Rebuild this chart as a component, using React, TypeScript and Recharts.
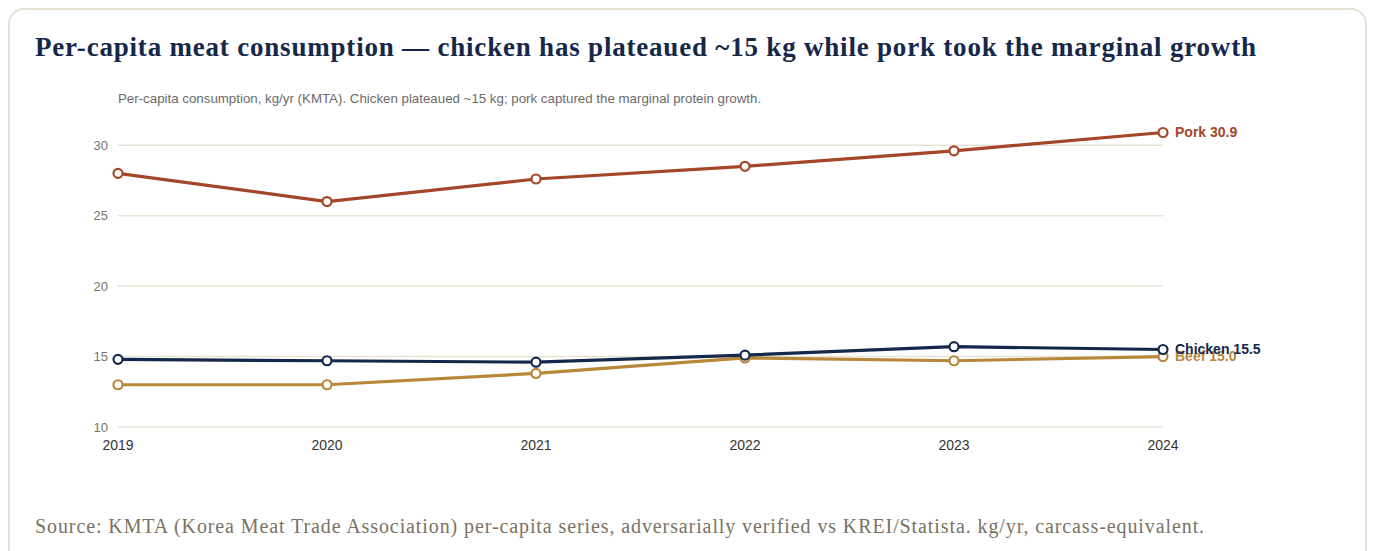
import { CartesianGrid, LabelList, Line, LineChart, XAxis, YAxis } from 'recharts';

const YEARS = ['2019', '2020', '2021', '2022', '2023', '2024'];
const PORK = [28.0, 26.0, 27.6, 28.5, 29.6, 30.9];
const CHICKEN = [14.8, 14.7, 14.6, 15.1, 15.7, 15.5];
const BEEF = [13.0, 13.0, 13.8, 14.9, 14.7, 15.0];
const Y_TICKS = [10, 15, 20, 25, 30];

const SERIES = [
  { key: 'pork', name: 'Pork', color: '#a3462a' },
  { key: 'beef', name: 'Beef', color: '#b8873a' },
  { key: 'chicken', name: 'Chicken', color: '#14284b' },
];

const data = YEARS.map((year, i) => ({
  year,
  pork: PORK[i],
  chicken: CHICKEN[i],
  beef: BEEF[i],
}));

const SANS = '"Liberation Sans", Arial, sans-serif';
const SERIF = '"Liberation Serif", "Times New Roman", serif';

function endLabel(name: string, color: string) {
  return (props: any) => {
    const { x, y, value, index } = props;
    if (index !== YEARS.length - 1) return null;
    return (
      <text
        x={x + 12}
        y={y}
        dy="0.35em"
        fill={color}
        fontFamily={SANS}
        fontSize={14}
        fontWeight={700}
      >
        {`${name} ${Number(value).toFixed(1)}`}
      </text>
    );
  };
}

export default function App() {
  return (
    <div>
      <div
        style={{
          position: 'absolute',
          left: 8,
          top: 8,
          width: 1355,
          height: 580,
          border: '2px solid #e7e1d2',
          borderRadius: 16,
          background: '#fff',
        }}
      />
      <div
        style={{
          position: 'absolute',
          left: 35,
          top: 30,
          fontFamily: SERIF,
          fontWeight: 700,
          fontSize: 27,
          letterSpacing: 0.8,
          color: '#16284a',
          whiteSpace: 'nowrap',
          lineHeight: '34px',
        }}
      >
        Per-capita meat consumption — chicken has plateaued ~15 kg while pork took the marginal growth
      </div>
      <div
        style={{
          position: 'absolute',
          left: 118,
          top: 90,
          fontFamily: SANS,
          fontSize: 13.3,
          color: '#6b6b6b',
          whiteSpace: 'nowrap',
          lineHeight: '18px',
        }}
      >
        Per-capita consumption, kg/yr (KMTA). Chicken plateaued ~15 kg; pork captured the marginal protein growth.
      </div>
      <div style={{ position: 'absolute', left: 0, top: 0 }}>
        <LineChart
          width={1300}
          height={470}
          data={data}
          margin={{ top: 117, right: 137, bottom: 13, left: 10 }}
        >
          <CartesianGrid
            vertical={false}
            horizontalValues={Y_TICKS}
            stroke="#e8e3d5"
            strokeWidth={1.5}
          />
          <XAxis
            dataKey="year"
            axisLine={false}
            tickLine={false}
            tickSize={0}
            tickMargin={13}
            height={30}
            interval={0}
            tick={{ fill: '#333', fontSize: 14, fontFamily: SANS }}
          />
          <YAxis
            domain={[10, 32]}
            ticks={Y_TICKS}
            axisLine={false}
            tickLine={false}
            tickSize={0}
            tickMargin={10}
            width={108}
            tick={{ fill: '#7a7466', fontSize: 13, fontFamily: SANS }}
          />
          {SERIES.map((s) => (
            <Line
              key={s.key}
              type="linear"
              dataKey={s.key}
              stroke={s.color}
              strokeWidth={3.2}
              dot={{ r: 4.5, fill: '#fff', stroke: s.color, strokeWidth: 2.2 }}
              activeDot={false}
              isAnimationActive={false}
            >
              <LabelList dataKey={s.key} content={endLabel(s.name, s.color)} />
            </Line>
          ))}
        </LineChart>
      </div>
      <div
        style={{
          position: 'absolute',
          left: 35,
          top: 513,
          fontFamily: SERIF,
          fontSize: 20,
          letterSpacing: 0.9,
          color: '#7a7264',
          whiteSpace: 'nowrap',
          lineHeight: '26px',
        }}
      >
        Source: KMTA (Korea Meat Trade Association) per-capita series, adversarially verified vs KREI/Statista. kg/yr, carcass-equivalent.
      </div>
    </div>
  );
}
